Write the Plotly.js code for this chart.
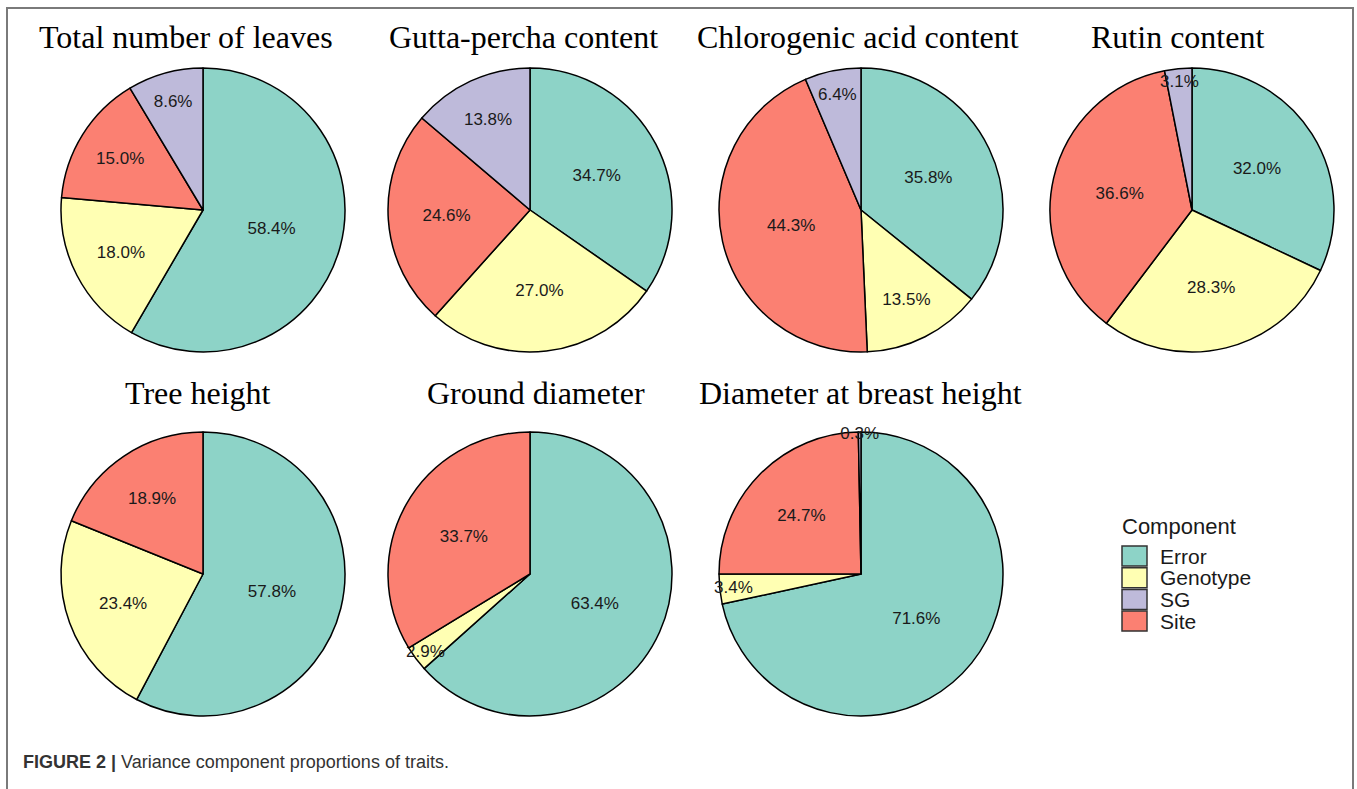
<!DOCTYPE html>
<html>
<head>
<meta charset="utf-8">
<script src="https://cdn.plot.ly/plotly-3.0.1.min.js"></script>
<style>
  html, body { margin: 0; padding: 0; background: #ffffff; }
  #chart { width: 1357px; height: 789px; }
</style>
</head>
<body>
<div id="chart"></div>
<script>
// ---- Data ----
var traits = ["Total number of leaves", "Gutta-percha content", "Chlorogenic acid content", "Rutin content",
              "Tree height", "Ground diameter", "Diameter at breast height"];
// slice order (clockwise from 12 o'clock): Error, Genotype, Site, SG
var sliceOrder = ["Error", "Genotype", "Site", "SG"];
var legendOrder = ["Error", "Genotype", "SG", "Site"];
var errorPct    = [58.4, 34.7, 35.8, 32.0, 57.8, 63.4, 71.6];
var genotypePct = [18.0, 27.0, 13.5, 28.3, 23.4, 2.9, 3.4];
var sitePct     = [15.0, 24.6, 44.3, 36.6, 18.9, 33.7, 24.7];
var sgPct       = [8.6, 13.8, 6.4, 3.1, 0, 0, 0.3];
var componentColors = {Error: "#8DD3C7", Genotype: "#FFFFB3", SG: "#BEBADA", Site: "#FB8072"};

// ---- Layout helpers ----
var W = 1357, H = 789;
var centers = [[203, 210], [530, 210], [861, 210], [1192, 210], [203, 574], [530, 574], [861, 574]];
var titleY = [37, 37, 37, 37, 393, 393, 393];
var titleX = [186, 523, 858, 1177, 198, 536, 860];
var D = 284;

var traces = [];
var annotations = [];
for (var i = 0; i < traits.length; i++) {
  var raw = {Error: errorPct[i], Genotype: genotypePct[i], Site: sitePct[i], SG: sgPct[i]};
  var labels = [], values = [], texts = [], colors = [];
  sliceOrder.forEach(function (c) {
    if (raw[c] > 0) {
      labels.push(c); values.push(raw[c]);
      texts.push(raw[c].toFixed(1) + "%");
      colors.push(componentColors[c]);
    }
  });
  var cx = centers[i][0], cy = centers[i][1];
  traces.push({
    type: "pie",
    labels: labels,
    values: values,
    text: texts,
    texttemplate: "%{text}",
    textinfo: "text",
    textposition: "inside",
    insidetextorientation: "horizontal",
    sort: false,
    direction: "clockwise",
    rotation: 0,
    marker: {colors: colors, line: {color: "#000000", width: 1.5}},
    textfont: {family: "Liberation Sans, Arial, sans-serif", size: 17, color: "#1a1a1a"},
    hoverinfo: "label+text",
    showlegend: false,
    domain: {
      x: [(cx - D / 2) / W, (cx + D / 2) / W],
      y: [1 - (cy + D / 2) / H, 1 - (cy - D / 2) / H]
    }
  });
  annotations.push({
    text: traits[i], xref: "paper", yref: "paper",
    x: titleX[i] / W, y: 1 - titleY[i] / H, xanchor: "center", yanchor: "middle",
    showarrow: false,
    font: {family: "Liberation Serif, Times New Roman, serif", size: 32, color: "#000000"}
  });
}

// ---- Manual legend ----
var shapes = [];
shapes.push({type: "rect", xref: "paper", yref: "paper", x0: 7 / W, x1: 1353 / W, y0: 1 - 820 / H, y1: 1 - 8 / H,
             line: {color: "#7a7a7a", width: 2}, fillcolor: "rgba(0,0,0,0)", layer: "below"});
annotations.push({
  text: "Component", xref: "paper", yref: "paper", x: 1120 / W, y: 1 - 526 / H,
  xanchor: "left", yanchor: "middle", showarrow: false,
  font: {family: "Liberation Sans, Arial, sans-serif", size: 22, color: "#1a1a1a"}
});
legendOrder.forEach(function (c, k) {
  var top = 546 + k * 21.7;
  shapes.push({type: "rect", xref: "paper", yref: "paper",
               x0: 1122 / W, x1: 1147 / W, y0: 1 - (top + 20) / H, y1: 1 - top / H,
               fillcolor: componentColors[c], line: {color: "#333333", width: 1.5}});
  annotations.push({
    text: c, xref: "paper", yref: "paper", x: 1158 / W, y: 1 - (top + 10) / H,
    xanchor: "left", yanchor: "middle", showarrow: false,
    font: {family: "Liberation Sans, Arial, sans-serif", size: 21, color: "#1a1a1a"}
  });
});

// ---- Caption ----
annotations.push({
  text: "<b>FIGURE 2 |</b> Variance component proportions of traits.",
  xref: "paper", yref: "paper", x: 21 / W, y: 1 - 762 / H,
  xanchor: "left", yanchor: "middle", showarrow: false,
  font: {family: "Liberation Sans, Arial, sans-serif", size: 18, color: "#333333"}
});

var layout = {
  width: W, height: H,
  margin: {l: 0, r: 0, t: 0, b: 0},
  paper_bgcolor: "#ffffff",
  showlegend: false,
  uniformtext: {minsize: 17, mode: "show"},
  annotations: annotations,
  shapes: shapes
};

Plotly.newPlot("chart", traces, layout, {displayModeBar: false, staticPlot: true});
</script>
</body>
</html>
